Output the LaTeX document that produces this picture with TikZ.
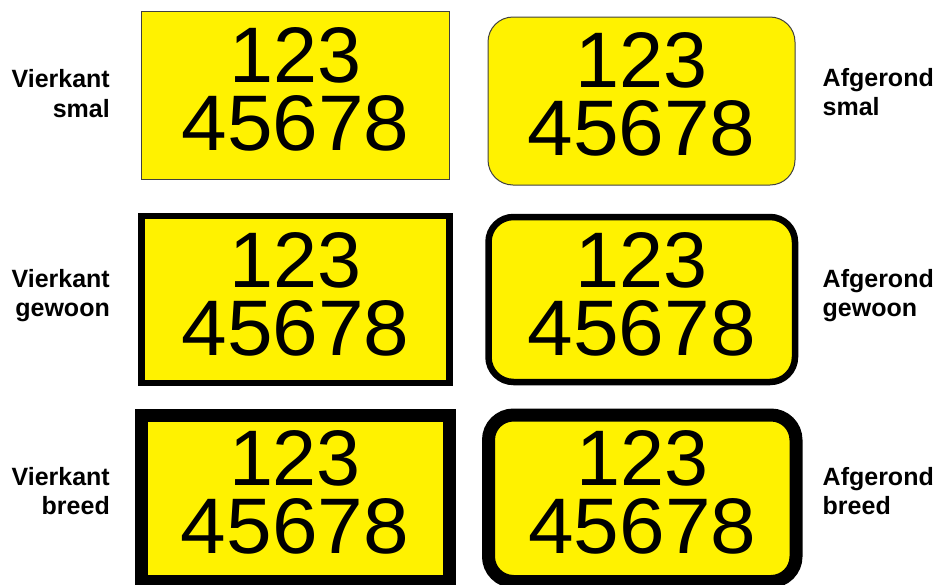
\documentclass[tikz,border=0pt]{standalone}
\usepackage{fontspec}
\setmainfont{Liberation Sans}
\usepackage{graphicx}
\newcommand{\toprow}{\resizebox{132pt}{55pt}{123}}
\newcommand{\botrow}{\resizebox{228pt}{55pt}{45678}}
\begin{document}
\begin{tikzpicture}[x=1pt,y=-1pt,
  plate/.style={fill=yellow, inner sep=0pt, outer sep=0pt, minimum width=308pt, minimum height=167pt},
  platesmal/.style={plate, draw=black!75, line width=1pt},
  plategewoon/.style={plate, draw=black, line width=6.5pt},
  platebreed/.style={plate, draw=black, line width=13pt},
  roundplate/.style={rounded corners=25pt},
  digits/.style={anchor=base, inner sep=0pt, font=\fontsize{77}{77}\selectfont},
  lbl/.style={inner sep=0pt, font=\bfseries\fontsize{25}{30}\selectfont},
  lblleft/.style={lbl, anchor=base east},
  lblright/.style={lbl, anchor=base west}]
\useasboundingbox (0,0) rectangle (937,584);
\clip (0,0) rectangle (937,584);

% plates
\node[platesmal, minimum height=168pt] (b1) at (295.5,95) {};
\node[platesmal, roundplate, minimum width=307pt, minimum height=168pt] (b2) at (641.5,101) {};
\node[plategewoon] (b3) at (295.5,299.5) {};
\node[plategewoon, roundplate, minimum width=306.5pt, minimum height=165pt] (b4) at (641.75,299.5) {};
\node[platebreed, minimum height=166.5pt] (b5) at (295,498.25) {};
\node[platebreed, roundplate, minimum width=307.5pt, minimum height=166.5pt] (b6) at (642.25,498.25) {};

% digits
\foreach \b/\up in {b1/13,b2/14,b3/12.5,b4/12.5,b5/13,b6/13}{
  \node[digits] (\b top) at ([yshift=\up pt]\b.center) {\toprow};
  \node[digits] (\b bot) at ([yshift={\up pt-68.5pt}]\b.center) {\botrow};
}

% labels left
\node[lblleft] (l1a) at (110,87) {Vierkant};
\node[lblleft] (l1b) at (110,117) {smal};
\node[lblleft] (l2a) at (110,287) {Vierkant};
\node[lblleft] (l2b) at (110,316) {gewoon};
\node[lblleft] (l3a) at (110,485) {Vierkant};
\node[lblleft] (l3b) at (110,514) {breed};
% labels right
\node[lblright] (r1a) at (822.5,86) {Afgerond};
\node[lblright] (r1b) at (822.5,115) {smal};
\node[lblright] (r2a) at (822.5,287) {Afgerond};
\node[lblright] (r2b) at (822.5,316) {gewoon};
\node[lblright] (r3a) at (822.5,485) {Afgerond};
\node[lblright] (r3b) at (822.5,514) {breed};
\end{tikzpicture}
\end{document}
